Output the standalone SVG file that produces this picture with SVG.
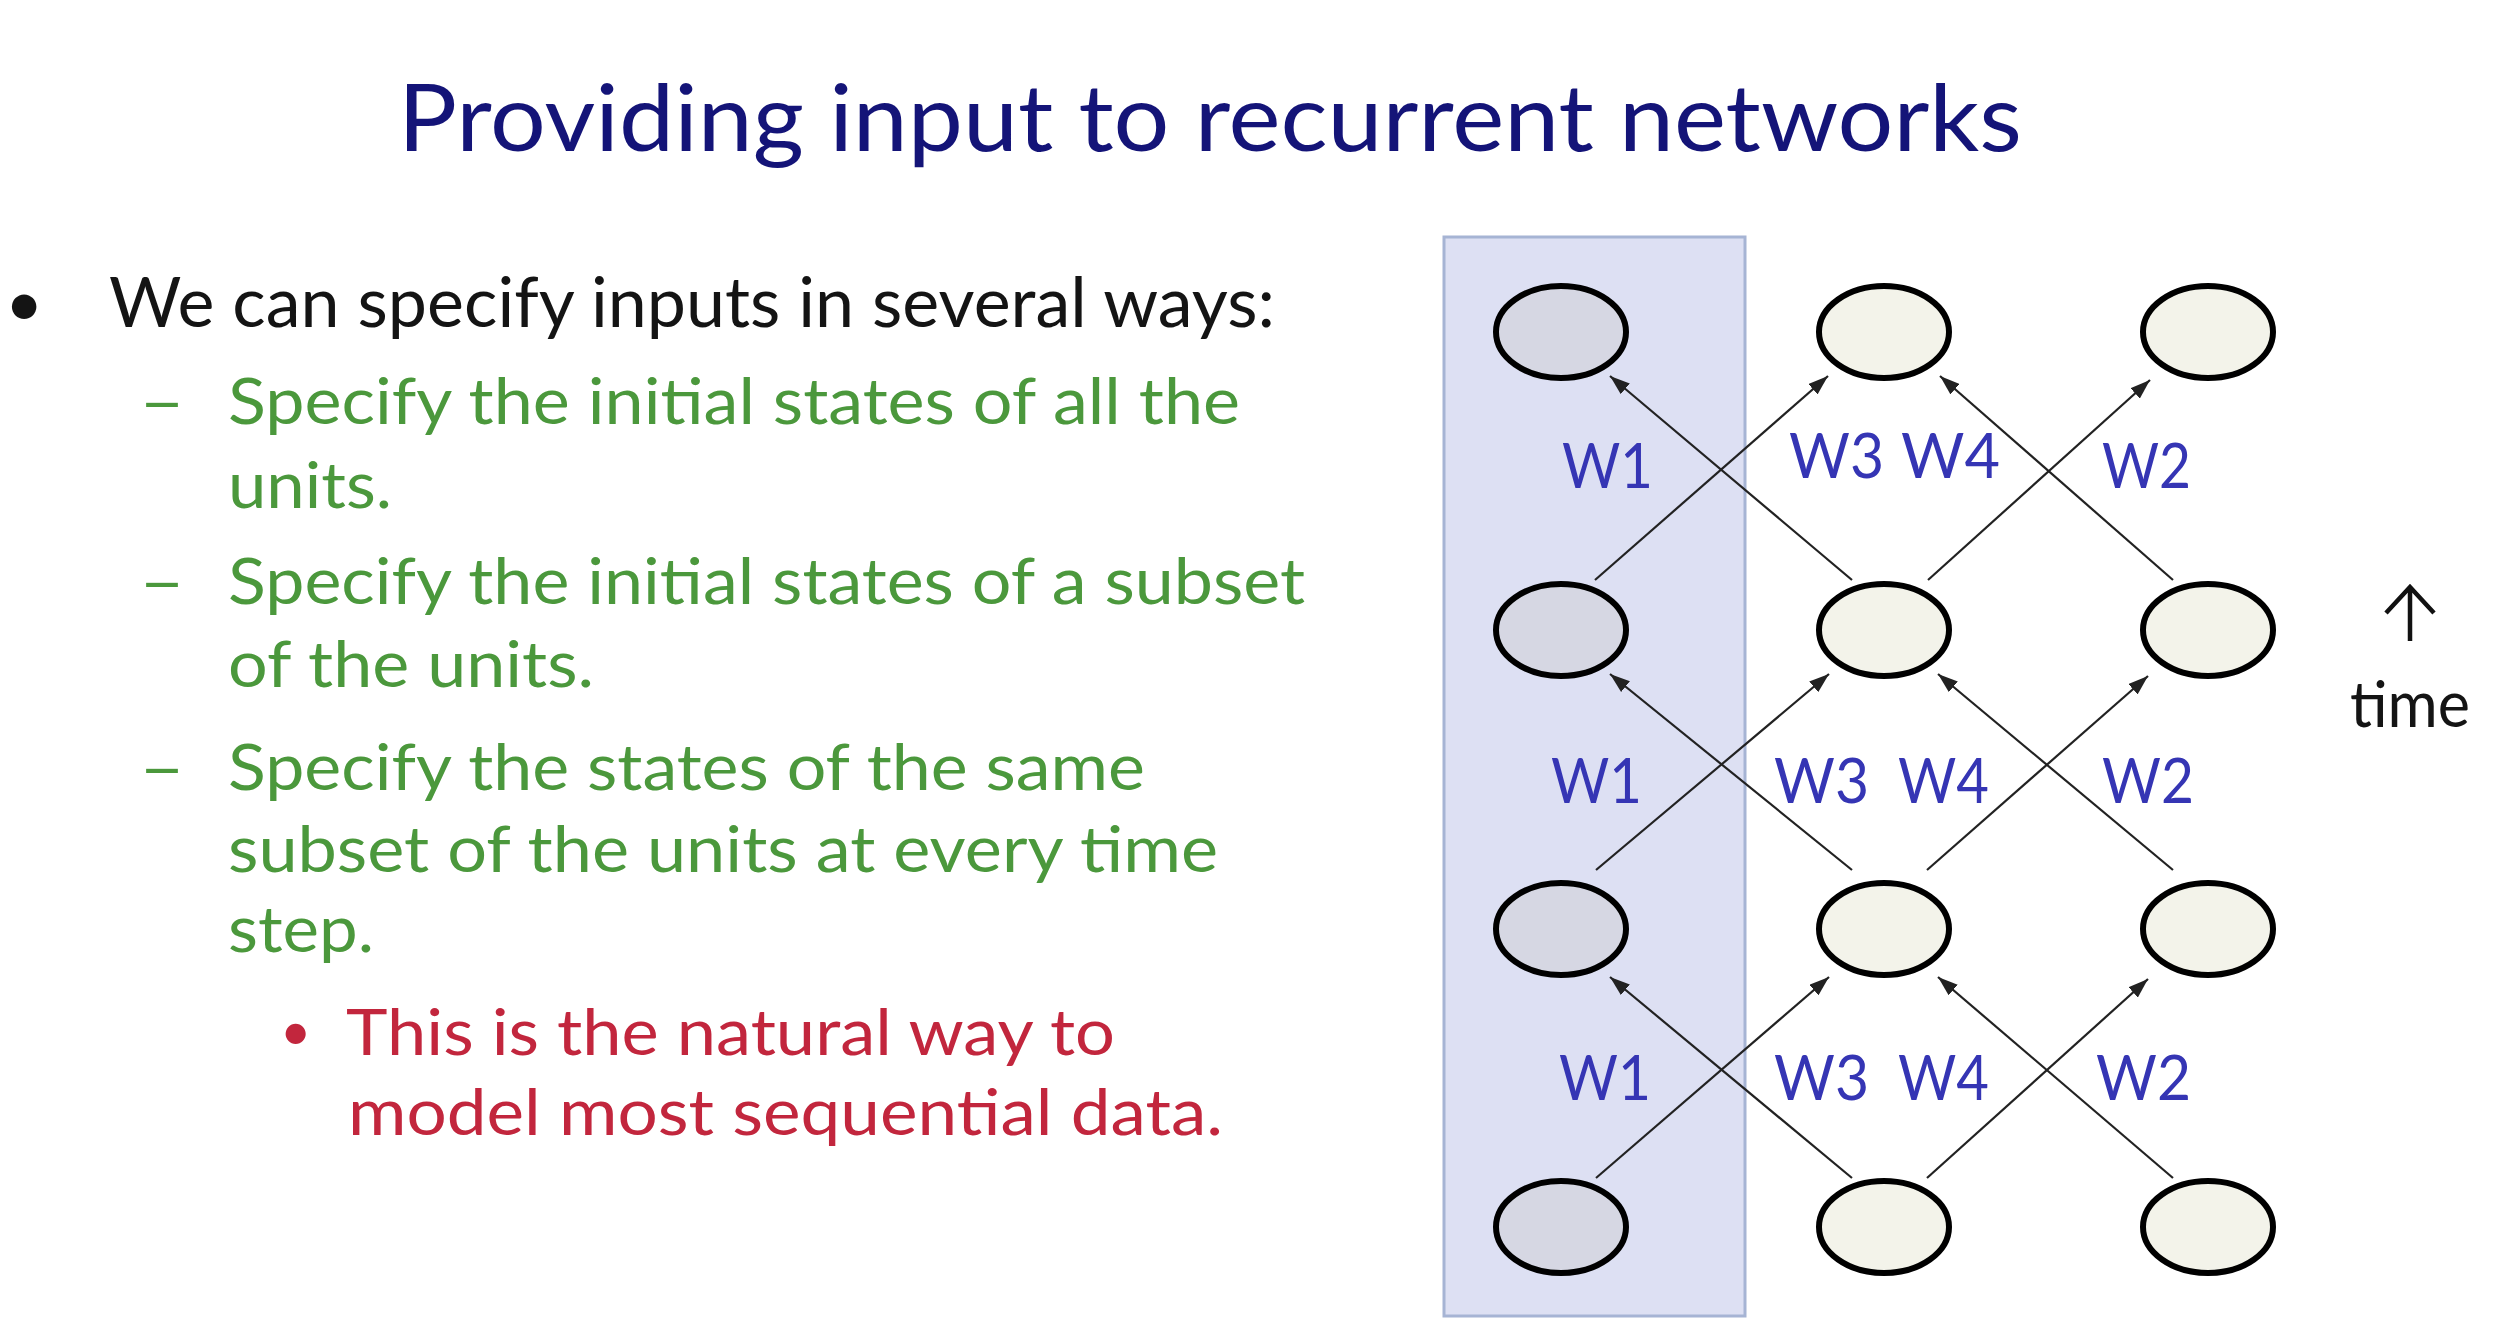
<svg xmlns="http://www.w3.org/2000/svg" width="2494" height="1326" viewBox="0 0 2494 1326">
<defs>
<marker id="ah" markerUnits="userSpaceOnUse" markerWidth="20" markerHeight="14" refX="20" refY="7" orient="auto">
<path d="M0,0 L20,7 L0,14 z" fill="#222"/>
</marker>
<style>
text{font-family:Lato,"Open Sans","Liberation Sans",sans-serif;}
.title{font-size:94px;fill:#141478;}
.l1{font-size:69px;fill:#141414;}
.l2{font-size:63px;fill:#4b983c;}
.l3{font-size:63px;fill:#c2263d;}
.w{font-size:62px;fill:#3535b4;}
.node{stroke:#000;stroke-width:6;}
.inp{fill:#d6d7e3;}
.hid{fill:#f3f3ea;}
.conn line{stroke:#222;stroke-width:2.2;marker-end:url(#ah);}
</style>
</defs>
<rect width="2494" height="1326" fill="#ffffff"/>
<text class="title" x="398" y="151" textLength="1624" lengthAdjust="spacingAndGlyphs">Providing input to recurrent networks</text>
<g id="bullets">
<text class="l1" x="5" y="326" style="font-size:66px">•</text>
<text class="l1" x="109" y="327" textLength="1166" lengthAdjust="spacingAndGlyphs">We can specify inputs in several ways:</text>
<text class="l2" x="139" y="424" textLength="46" lengthAdjust="spacingAndGlyphs">–</text>
<text class="l2" x="228" y="424" textLength="1012" lengthAdjust="spacingAndGlyphs">Specify the initial states of all the</text>
<text class="l2" x="228" y="508" textLength="164" lengthAdjust="spacingAndGlyphs">units.</text>
<text class="l2" x="139" y="604" textLength="46" lengthAdjust="spacingAndGlyphs">–</text>
<text class="l2" x="228" y="604" textLength="1077" lengthAdjust="spacingAndGlyphs">Specify the initial states of a subset</text>
<text class="l2" x="228" y="687" textLength="366" lengthAdjust="spacingAndGlyphs">of the units.</text>
<text class="l2" x="139" y="790" textLength="46" lengthAdjust="spacingAndGlyphs">–</text>
<text class="l2" x="228" y="790" textLength="917" lengthAdjust="spacingAndGlyphs">Specify the states of the same</text>
<text class="l2" x="228" y="872" textLength="990" lengthAdjust="spacingAndGlyphs">subset of the units at every time</text>
<text class="l2" x="228" y="952" textLength="146" lengthAdjust="spacingAndGlyphs">step.</text>
<text class="l3" x="280" y="1050" style="font-size:54px">•</text>
<text class="l3" x="346" y="1055" textLength="769" lengthAdjust="spacingAndGlyphs">This is the natural way to</text>
<text class="l3" x="348" y="1135" textLength="875" lengthAdjust="spacingAndGlyphs">model most sequential data.</text>
</g>
<rect id="input-column" x="1444" y="237" width="301" height="1079" fill="#dde0f3" stroke="#a6b4d4" stroke-width="3"/>
<g class="conn" id="connectors">
<line x1="1595" y1="580" x2="1828" y2="376"/>
<line x1="1852" y1="580" x2="1610" y2="376"/>
<line x1="1928" y1="580" x2="2150" y2="380"/>
<line x1="2173" y1="580" x2="1940" y2="376"/>
<line x1="1596" y1="870" x2="1829" y2="674"/>
<line x1="1852" y1="870" x2="1610" y2="674"/>
<line x1="1927" y1="870" x2="2148" y2="676"/>
<line x1="2173" y1="870" x2="1938" y2="674"/>
<line x1="1596" y1="1178" x2="1829" y2="977"/>
<line x1="1852" y1="1178" x2="1610" y2="977"/>
<line x1="1927" y1="1178" x2="2148" y2="979"/>
<line x1="2173" y1="1178" x2="1938" y2="977"/>
</g>
<g id="n-0-3"><ellipse class="node inp" cx="1561" cy="332" rx="65" ry="46"/></g>
<g id="n-1-3"><ellipse class="node hid" cx="1884" cy="332" rx="65" ry="46"/></g>
<g id="n-2-3"><ellipse class="node hid" cx="2208" cy="332" rx="65" ry="46"/></g>
<g id="n-0-2"><ellipse class="node inp" cx="1561" cy="630" rx="65" ry="46"/></g>
<g id="n-1-2"><ellipse class="node hid" cx="1884" cy="630" rx="65" ry="46"/></g>
<g id="n-2-2"><ellipse class="node hid" cx="2208" cy="630" rx="65" ry="46"/></g>
<g id="n-0-1"><ellipse class="node inp" cx="1561" cy="929" rx="65" ry="46"/></g>
<g id="n-1-1"><ellipse class="node hid" cx="1884" cy="929" rx="65" ry="46"/></g>
<g id="n-2-1"><ellipse class="node hid" cx="2208" cy="929" rx="65" ry="46"/></g>
<g id="n-0-0"><ellipse class="node inp" cx="1561" cy="1227" rx="65" ry="46"/></g>
<g id="n-1-0"><ellipse class="node hid" cx="1884" cy="1227" rx="65" ry="46"/></g>
<g id="n-2-0"><ellipse class="node hid" cx="2208" cy="1227" rx="65" ry="46"/></g>
<g id="labels">
<text class="w" x="1562" y="488" textLength="91" lengthAdjust="spacingAndGlyphs">W1</text>
<text class="w" x="1789" y="478" textLength="95" lengthAdjust="spacingAndGlyphs">W3</text>
<text class="w" x="1901" y="478" textLength="99" lengthAdjust="spacingAndGlyphs">W4</text>
<text class="w" x="2102" y="488" textLength="89" lengthAdjust="spacingAndGlyphs">W2</text>
<text class="w" x="1551" y="803" textLength="91" lengthAdjust="spacingAndGlyphs">W1</text>
<text class="w" x="1774" y="803" textLength="95" lengthAdjust="spacingAndGlyphs">W3</text>
<text class="w" x="1898" y="803" textLength="91" lengthAdjust="spacingAndGlyphs">W4</text>
<text class="w" x="2102" y="803" textLength="92" lengthAdjust="spacingAndGlyphs">W2</text>
<text class="w" x="1559" y="1100" textLength="92" lengthAdjust="spacingAndGlyphs">W1</text>
<text class="w" x="1774" y="1100" textLength="95" lengthAdjust="spacingAndGlyphs">W3</text>
<text class="w" x="1898" y="1100" textLength="91" lengthAdjust="spacingAndGlyphs">W4</text>
<text class="w" x="2096" y="1100" textLength="95" lengthAdjust="spacingAndGlyphs">W2</text>
</g>
<g id="time">
<path d="M2410,641 V587 M2386,613 L2410,587 L2434,613" fill="none" stroke="#111" stroke-width="4.5"/>
<text x="2350" y="727" style="font-size:63px;fill:#141414" textLength="120" lengthAdjust="spacingAndGlyphs">time</text>
</g>
</svg>
